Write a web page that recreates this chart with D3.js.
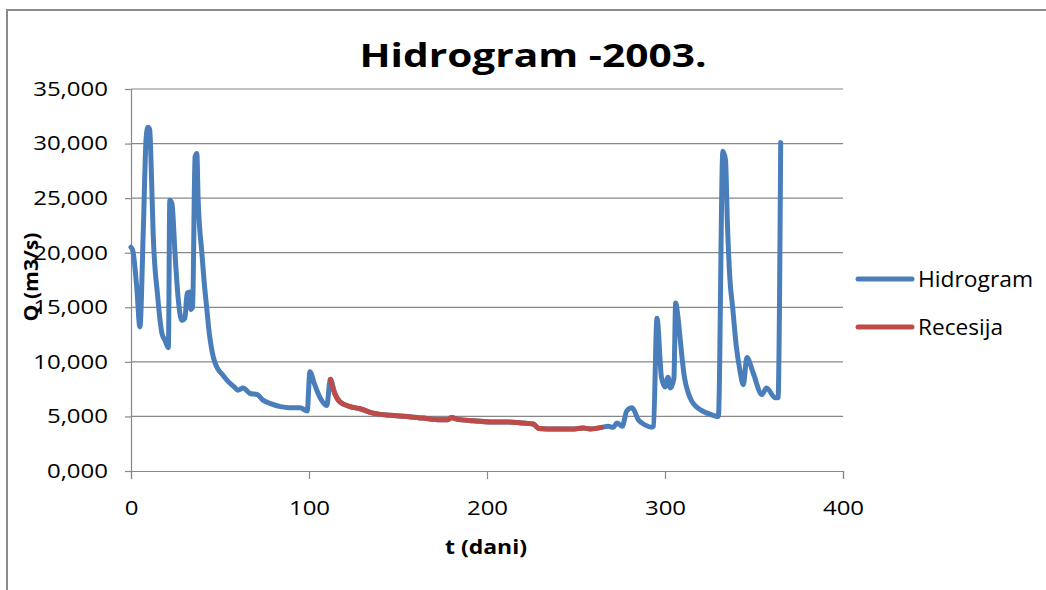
<!DOCTYPE html>
<html>
<head>
<meta charset="utf-8">
<script src="https://cdn.jsdelivr.net/npm/d3@7/dist/d3.min.js"></script>
<style>
  html, body { margin: 0; padding: 0; background: #fff; }
  svg { display: block; }
  text { font-family: "Open Sans", "Noto Sans", sans-serif; fill: #000; }
</style>
</head>
<body>
<svg id="chart" width="1046" height="590"></svg>
<script>
// ---------------- DATA ----------------
const titleText = "Hidrogram -2003.";
const xLabel = "t (dani)";
const yLabel = "Q (m3/s)";
const seriesNames = ["Hidrogram", "Recesija"];

const xTicks = [0, 100, 200, 300, 400];
const yTicks = [0, 5, 10, 15, 20, 25, 30, 35];

// Hidrogram – before the recession period
const headT = [0, 1, 3.2, 5, 6.9, 8.5, 9.5, 10.5, 11.5, 12.4, 15, 17.4, 19, 21, 21.8, 23, 24.7, 26.4, 28.5, 30.3, 31.5, 33, 33.5, 34.6, 36, 37, 37.7, 39.8, 41, 42.5, 44, 45.5, 47, 49, 51.5, 54, 58, 60, 63, 67, 71, 74, 78, 84, 89, 95, 99, 100.5, 103, 106, 110];
const headQ = [20.5, 20.2, 16.9, 13.2, 22, 30.5, 31.5, 31.3, 27, 22, 16, 12.6, 12, 11.3, 24.8, 24.5, 20, 16, 13.8, 14, 16.3, 16.4, 14.8, 15, 28.8, 29.1, 25, 20, 17.5, 15, 12.6, 11, 10, 9.3, 8.8, 8.3, 7.7, 7.4, 7.6, 7.1, 7.0, 6.5, 6.2, 5.9, 5.8, 5.8, 5.5, 9.1, 8.0, 6.8, 6.0];

// Recesija
const recT = [112, 114.5, 117.5, 123, 128.6, 136, 145.5, 155, 164, 173.6, 178, 180, 183, 192, 201.7, 211, 220, 226, 229, 239, 248, 254, 258, 264.5];
const recQ = [8.4, 7.1, 6.3, 5.9, 5.7, 5.3, 5.1, 5.0, 4.85, 4.7, 4.7, 4.9, 4.75, 4.6, 4.5, 4.5, 4.4, 4.3, 3.9, 3.85, 3.85, 3.95, 3.85, 4.0];

// Hidrogram – after the recession period
const tailT = [268, 271, 273, 276, 278.5, 281.5, 285, 289, 292.5, 293.5, 295.5, 298, 300, 301.7, 303, 305, 306, 307, 308.4, 309.5, 311, 313, 315, 317.5, 320, 323.6, 328, 330, 332.5, 334, 335, 336.5, 338, 340, 342, 344, 346, 349.5, 354.5, 357, 362, 363.5, 365];
const tailQ = [4.1, 4.0, 4.4, 4.1, 5.5, 5.8, 4.7, 4.2, 4.0, 4.1, 14.0, 8.6, 7.7, 8.6, 7.6, 8.5, 15.4, 14.5, 12.3, 10.5, 8.5, 7.2, 6.4, 5.9, 5.6, 5.3, 5.05, 5.0, 29.3, 28.5, 23, 17.5, 15, 11.5, 9.3, 7.9, 10.4, 9.0, 7.0, 7.6, 6.7, 6.7, 30.1];

const colors = ["#4A7EBB", "#BE4B48"];

// ---------------- CHART ----------------
const svg = d3.select("#chart");
const x = d3.scaleLinear().domain([0, 400]).range([131, 843]);
const y = d3.scaleLinear().domain([0, 35]).range([471, 89]);

const loc = d3.formatLocale({decimal: ",", thousands: ".", grouping: [3], currency: ["", ""]});
const fmt = loc.format(".3f");

const K = 1.2; // horizontal text stretch
function stretch(sel, k) {
  sel.each(function() {
    const w = this.getComputedTextLength();
    d3.select(this).attr("textLength", w * k).attr("lengthAdjust", "spacingAndGlyphs");
  });
}

// outer chart border (left + top visible)
svg.append("path")
  .attr("d", "M7,600 L7,10 L1060,10")
  .attr("fill", "none").attr("stroke", "#8a8a8a").attr("stroke-width", 2);

// gridlines
svg.append("g").selectAll("line").data(yTicks.filter(d => d > 0)).join("line")
  .attr("x1", x(0)).attr("x2", x(400))
  .attr("y1", d => y(d)).attr("y2", d => y(d))
  .attr("stroke", "#888").attr("stroke-width", 1.2);

// axes
const yAxis = svg.append("g").attr("transform", `translate(${x(0)},0)`)
  .call(d3.axisLeft(y).tickValues(yTicks).tickFormat(fmt).tickSize(6).tickPadding(17));
const xAxis = svg.append("g").attr("transform", `translate(0,${y(0)})`)
  .call(d3.axisBottom(x).tickValues(xTicks).tickFormat(d3.format("d")).tickSize(8).tickPadding(22));

[yAxis, xAxis].forEach(a => {
  a.select(".domain").attr("stroke", "#888").attr("stroke-width", 1.2);
  a.selectAll(".tick line").attr("stroke", "#888").attr("stroke-width", 1.2);
  a.selectAll(".tick text").attr("font-family", "Open Sans").attr("font-size", 20).attr("fill", "#222");
  stretch(a.selectAll(".tick text"), K);
});

// lines
const line = d3.line().curve(d3.curveMonotoneX).x(d => x(d[0])).y(d => y(d[1]));
const hydro = headT.map((t, i) => [t, headQ[i]])
  .concat(recT.map((t, i) => [t, recQ[i]]))
  .concat(tailT.map((t, i) => [t, tailQ[i]]));
const rec = recT.map((t, i) => [t, recQ[i]]);

svg.append("path").datum(hydro).attr("d", line)
  .attr("fill", "none").attr("stroke", colors[0]).attr("stroke-width", 5)
  .attr("stroke-linejoin", "round").attr("stroke-linecap", "round");
svg.append("path").datum(rec).attr("d", line)
  .attr("fill", "none").attr("stroke", colors[1]).attr("stroke-width", 5)
  .attr("stroke-linejoin", "round").attr("stroke-linecap", "round");

// title
svg.append("text").attr("x", 533).attr("y", 67).attr("text-anchor", "middle")
  .attr("font-weight", "bold").attr("font-size", 32)
  .attr("textLength", 347).attr("lengthAdjust", "spacingAndGlyphs")
  .text(titleText);

// axis titles
svg.append("text").attr("x", 486).attr("y", 554).attr("text-anchor", "middle")
  .attr("font-weight", "bold").attr("font-size", 20)
  .attr("textLength", 82).attr("lengthAdjust", "spacingAndGlyphs")
  .text(xLabel);
svg.append("text").attr("transform", "translate(38,277) rotate(-90)").attr("text-anchor", "middle")
  .attr("font-weight", "bold").attr("font-size", 20)
  .attr("textLength", 89).attr("lengthAdjust", "spacingAndGlyphs")
  .text(yLabel);

// legend
const legY = [279, 327];
const legW = [115, 85];
const leg = svg.append("g").selectAll("g").data(seriesNames).join("g");
leg.append("line")
  .attr("x1", 858).attr("x2", 912)
  .attr("y1", (d, i) => legY[i]).attr("y2", (d, i) => legY[i])
  .attr("stroke", (d, i) => colors[i]).attr("stroke-width", 5).attr("stroke-linecap", "round");
leg.append("text")
  .attr("x", 918).attr("y", (d, i) => legY[i] + 8)
  .attr("font-size", 22).attr("fill", "#222")
  .attr("textLength", (d, i) => legW[i]).attr("lengthAdjust", "spacingAndGlyphs")
  .text(d => d);
</script>
</body>
</html>
